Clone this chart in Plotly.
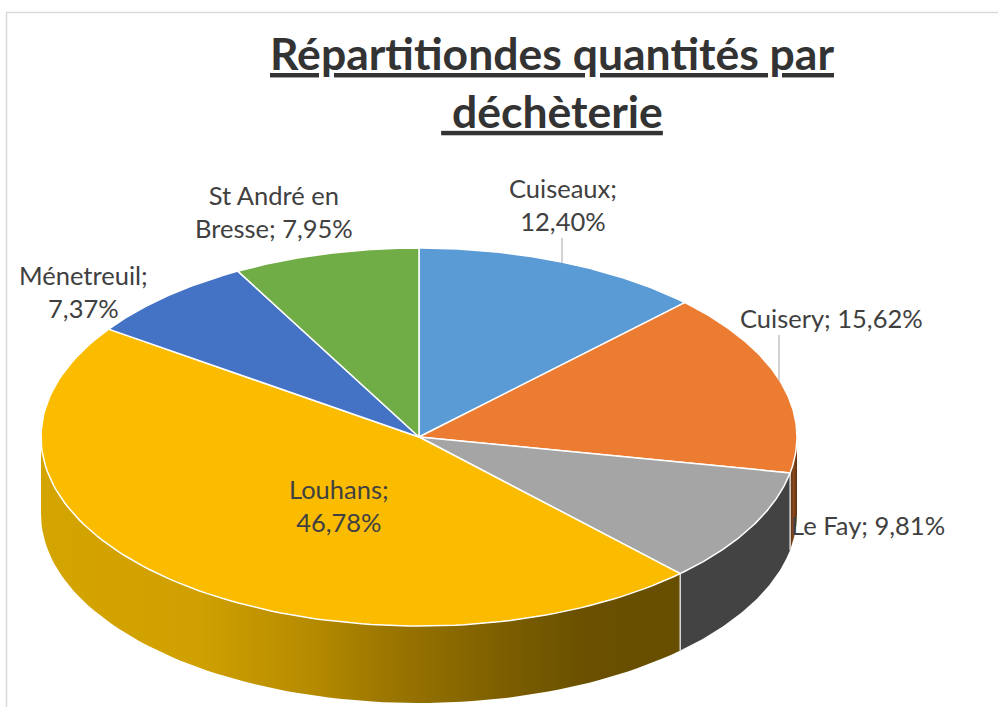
import numpy as np
import plotly.graph_objects as go

# --- data ---
categories = ["Cuiseaux", "Cuisery", "Le Fay", "Louhans", "Ménetreuil", "St André en Bresse"]
shares = [12.40, 15.62, 9.81, 46.78, 7.37, 7.95]
title_lines = ["Répartitiondes quantités par", "\u00a0déchèterie"]
label_texts = ["Cuiseaux;<br>12,40%", "Cuisery; 15,62%", "Le Fay; 9,81%",
               "Louhans;<br>46,78%", "Ménetreuil;<br>7,37%", "St André en<br>Bresse; 7,95%"]

# --- style ---
top_colors = ["#5B9BD5", "#EC7C31", "#A5A5A5", "#FBBC00", "#4472C4", "#70AD47"]
CX, CY, RX, RY, DEPTH = 419, 437, 378, 189, 77
label_xy = [(563, 204), (831, 318), (868, 525), (339, 505), (83, 291), (274, 211)]
FONT = "Lato, Carlito, Calibri, sans-serif"


def pt(theta):
    return CX + RX * np.sin(theta), CY - RY * np.cos(theta)


cum = np.cumsum([0] + shares) / sum(shares) * 2 * np.pi
fig = go.Figure()


def wall(a, b, color=None, gradient=None):
    t = np.linspace(a, b, 80)
    x, y = pt(t)
    xs = np.r_[x, x[::-1]]
    ys = np.r_[y, (y + DEPTH)[::-1]]
    kw = dict(fillcolor=color)
    if gradient:
        kw = dict(fillgradient=gradient)
    fig.add_trace(go.Scatter(x=xs, y=ys, mode="lines", fill="toself", line=dict(width=0), hoverinfo="skip", **kw))


# visible walls of the front half
wall(np.pi / 2, cum[2], gradient=dict(type="horizontal", colorscale=[[0, "#5E3010"], [0.5, "#8A4A1E"], [1, "#5E3010"]]))
wall(cum[2], cum[3], color="#434343")
wall(cum[3], 1.5 * np.pi, gradient=dict(type="horizontal", start=40, stop=681,
     colorscale=[[0, "#D4A500"], [0.25, "#CFA000"], [0.42, "#B68B00"], [0.55, "#9A7500"],
                 [0.72, "#7D5F00"], [0.85, "#6A5000"], [1, "#674E00"]]))

# separators on the walls
for c in (cum[2], cum[3]):
    x0, y0 = pt(c)
    fig.add_trace(go.Scatter(x=[x0, x0], y=[y0, y0 + DEPTH], mode="lines",
                             line=dict(color="#D8D8D8", width=1.5), hoverinfo="skip"))

# top face
for i, name in enumerate(categories):
    t = np.linspace(cum[i], cum[i + 1], 120)
    x, y = pt(t)
    fig.add_trace(go.Scatter(x=np.r_[CX, x, CX], y=np.r_[CY, y, CY], mode="lines", fill="toself",
                             fillcolor=top_colors[i], line=dict(color="#FFFFFF", width=1.5),
                             name=name, hoverinfo="name"))

for (lx, ly), txt in zip(label_xy, label_texts):
    fig.add_annotation(x=lx, y=ly, text=txt, showarrow=False, xanchor="center", yanchor="middle",
                       font=dict(family=FONT, size=25.5, color="#404040"))

fig.add_annotation(x=552, y=81, text="<b>" + "<br>".join(title_lines) + "</b>", showarrow=False,
                   xanchor="center", yanchor="middle",
                   font=dict(family=FONT, size=44.5, color="#333333", lineposition="under"))

shapes = [
    dict(type="line", x0=6.5, x1=6.5, y0=12, y1=707, line=dict(color="#D9D9D9", width=1.5)),
    dict(type="line", x0=6, x1=998, y0=12.5, y1=12.5, line=dict(color="#D9D9D9", width=1.5)),
    dict(type="line", x0=562, x1=562, y0=238, y1=263, line=dict(color="#A6A6A6", width=1)),
    dict(type="line", x0=779, x1=779, y0=335, y1=381, line=dict(color="#A6A6A6", width=1)),
]

fig.update_layout(width=1004, height=707, margin=dict(l=0, r=0, t=0, b=0), showlegend=False,
                  paper_bgcolor="white", plot_bgcolor="white", shapes=shapes,
                  xaxis=dict(range=[0, 1004], visible=False, fixedrange=True),
                  yaxis=dict(range=[707, 0], visible=False, fixedrange=True))
fig.write_html("out.html", config=dict(displayModeBar=False),
               post_script="document.body.style.margin='0';"
                           "var s=document.createElement('style');"
                           "s.textContent='svg text{font-variant-ligatures:none;}';"
                           "document.head.appendChild(s);")
